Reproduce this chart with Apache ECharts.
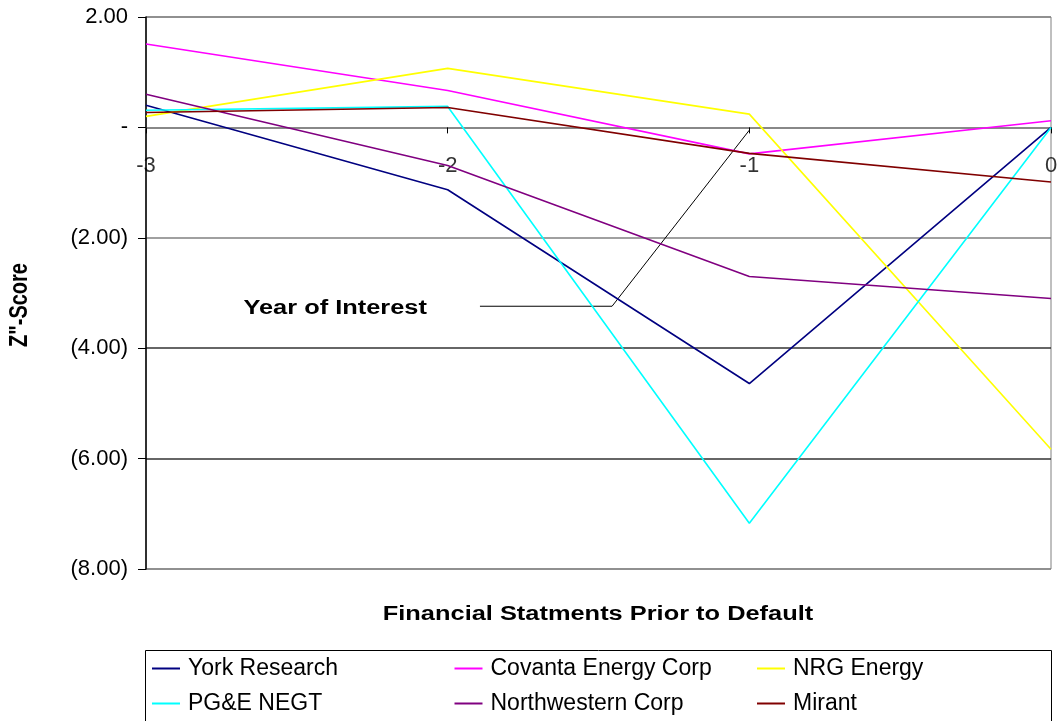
<!DOCTYPE html>
<html>
<head>
<meta charset="utf-8">
<script src="https://cdn.jsdelivr.net/npm/echarts@6/dist/echarts.min.js"></script>
<style>html,body{margin:0;padding:0;background:#fff;}#c{width:1058px;height:721px;}</style>
</head>
<body>
<div id="c"></div>
<script>
var xValues = [-3, -2, -1, 0];
var xTickLabels = ['-3', '-2', '-1', '0'];
var seriesNames = ['York Research', 'Covanta Energy Corp', 'NRG Energy', 'PG&E NEGT', 'Northwestern Corp', 'Mirant'];
var seriesColors = ['#000080', '#FF00FF', '#FFFF00', '#00FFFF', '#800080', '#800000'];
var york = [0.40, -1.13, -4.64, 0.00];
var covanta = [1.51, 0.67, -0.48, 0.12];
var nrg = [0.20, 1.07, 0.24, -5.83];
var pge = [0.31, 0.38, -7.17, 0.00];
var northwestern = [0.60, -0.69, -2.70, -3.10];
var mirant = [0.27, 0.36, -0.47, -0.99];
var allValues = [york, covanta, nrg, pge, northwestern, mirant];
// annotation "Year of Interest" leader line in data coordinates
var annotX = [-1.893, -1.455, -1.0];
var annotY = [-3.24, -3.24, -0.05];
var annotText = 'Year of Interest';
var yTitle = 'Z"-Score';
var xTitle = 'Financial Statments Prior to Default';

var fontFamily = 'Liberation Sans, Arial, sans-serif';
var STRETCH = 1.27;

function pairs(xs, ys) { return xs.map(function (x, i) { return [x, ys[i]]; }); }

var series = seriesNames.map(function (n, i) {
  return {
    name: n, type: 'line', data: pairs(xValues, allValues[i]),
    symbol: 'none', lineStyle: { width: 1.6, color: seriesColors[i] },
    itemStyle: { color: seriesColors[i] }, silent: true, animation: false
  };
});
series.push({
  name: '_annot', type: 'line', data: pairs(annotX, annotY), symbol: 'none',
  lineStyle: { width: 1, color: '#000' }, itemStyle: { color: '#000' }, silent: true, animation: false, z: 1
});
// x tick labels placed at y = 0 through the axes
series.push({
  name: '_xlabels', type: 'scatter', silent: true, animation: false,
  data: xValues.map(function (x, i) { return { value: [x, 0], label: { formatter: xTickLabels[i] } }; }),
  symbolSize: 1, itemStyle: { color: 'rgba(0,0,0,0)' },
  label: { show: true, position: 'bottom', distance: 27, fontFamily: fontFamily, fontSize: 22, color: '#000' }
});

function legendRow(names, top) {
  return {
    data: names.map(function (n) { return { name: n, icon: 'rect' }; }),
    left: 152, top: top, width: 900, padding: 0, orient: 'horizontal',
    itemWidth: 28, itemHeight: 2, itemGap: 16.5,
    textStyle: { fontFamily: fontFamily, fontSize: 23, color: '#000', width: 250, lineHeight: 20, padding: [0, 0, 0, 3], overflow: 'none' }
  };
}

var chart = echarts.init(document.getElementById('c'), null, { renderer: 'canvas' });
chart.setOption({
  animation: false,
  backgroundColor: '#fff',
  grid: { left: 146, right: 7, top: 17, bottom: 152, show: true, borderColor: '#808080', borderWidth: 1 },
  xAxis: {
    type: 'value', min: -3, max: 0, interval: 1,
    axisLine: { show: true, onZero: true, lineStyle: { color: '#808080', width: 1.5 } },
    axisTick: { show: true, length: 6, lineStyle: { color: '#000' } },
    axisLabel: { show: false },
    splitLine: { show: false }
  },
  yAxis: {
    type: 'value', min: -8, max: 2, interval: 2,
    axisLine: { show: true, onZero: false, lineStyle: { color: '#000', width: 1.5 } },
    axisTick: { show: true, length: 8, lineStyle: { color: '#000' } },
    axisLabel: {
      margin: 18, fontFamily: fontFamily, fontSize: 22, color: '#000',
      formatter: function (v) {
        if (v === 0) return '-';
        if (v < 0) return '(' + Math.abs(v).toFixed(2) + ')';
        return v.toFixed(2);
      }
    },
    splitLine: { show: true, lineStyle: { color: ['#808080', '#333333', '#333333', '#808080', '#808080', '#808080'], width: 1.5 } }
  },
  legend: [legendRow(seriesNames.slice(0, 3), 657), legendRow(seriesNames.slice(3), 692)],
  series: series
});
// titles and annotation text (annotation anchored to the leader line's start via the axes)
var p = chart.convertToPixel({ gridIndex: 0 }, [annotX[0], annotY[0]]);
chart.setOption({
  graphic: [
    { id: 'lbox', type: 'rect', left: 143, top: 648, shape: { width: 906, height: 71 }, style: { fill: 'none', stroke: '#000', lineWidth: 1 }, z: -1 },
    { id: 'ytitle', type: 'text', x: 20, y: 305, rotation: Math.PI / 2, scaleY: STRETCH,
      style: { text: yTitle, fontFamily: fontFamily, fontSize: 20, fontWeight: 'bold', fill: '#000', align: 'center', verticalAlign: 'middle' } },
    { id: 'xtitle', type: 'text', x: 598, y: 614, scaleX: STRETCH,
      style: { text: xTitle, fontFamily: fontFamily, fontSize: 20, fontWeight: 'bold', fill: '#000', align: 'center', verticalAlign: 'middle' } },
    { id: 'annot', type: 'text', x: p[0] - 53, y: p[1] + 2, scaleX: STRETCH,
      style: { text: annotText, fontFamily: fontFamily, fontSize: 20, fontWeight: 'bold', fill: '#000', align: 'right', verticalAlign: 'middle' } }
  ]
});
</script>
</body>
</html>
